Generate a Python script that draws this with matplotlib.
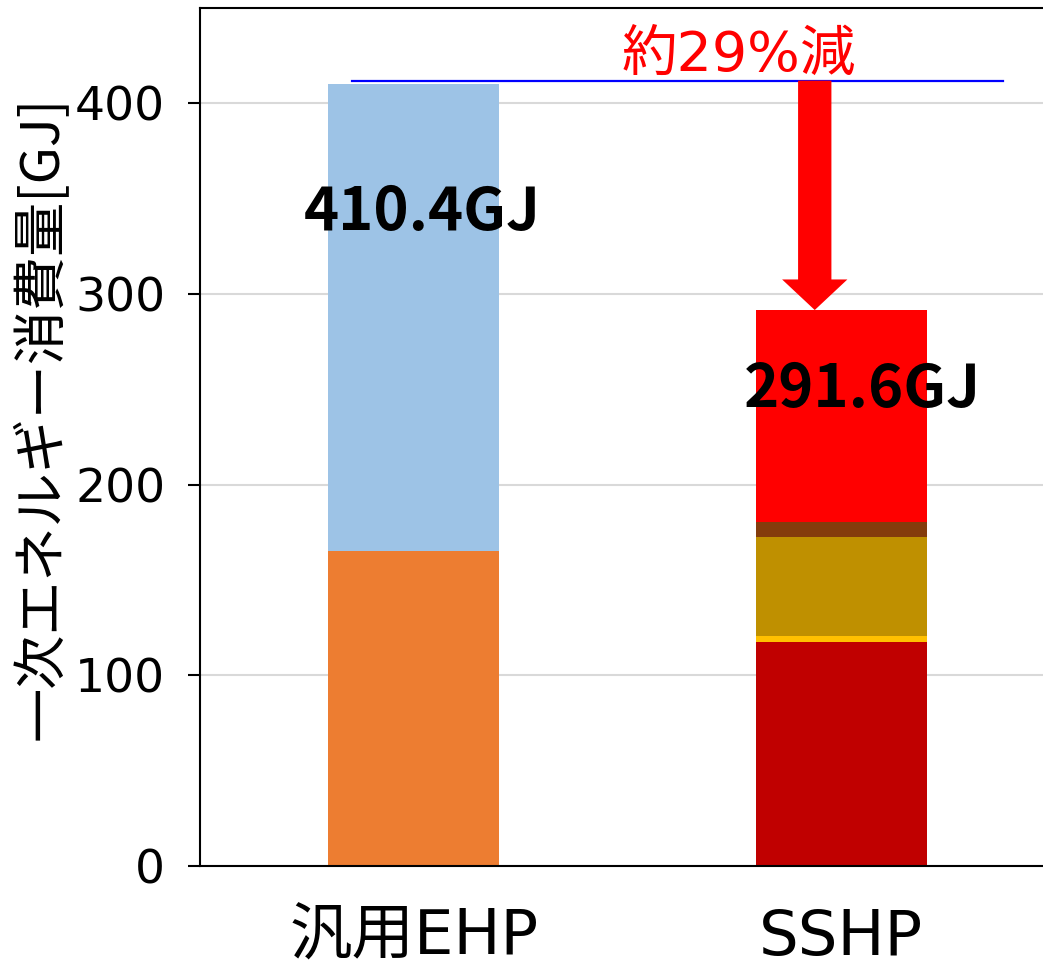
import matplotlib.pyplot as plt
import numpy as np

plt.rcParams['font.family'] = ['Noto Sans CJK JP', 'DejaVu Sans']
wide = ['DejaVu Sans', 'Noto Sans CJK JP']

# Stacked primary energy consumption per system [GJ]
systems = ["汎用EHP", "SSHP"]
ehp_parts = [165.4, 245.0]
ehp_colors = ["#ED7D31", "#9DC3E6"]
sshp_parts = [117.3, 3.1, 52.4, 7.8, 111.0]
sshp_colors = ["#C00000", "#FFC000", "#BF9000", "#843C0C", "#FF0000"]
totals = [410.4, 291.6]
reduction_text = "約29%減"

fig = plt.figure(figsize=(10.43, 9.68), dpi=100)
ax = fig.add_axes([200 / 1043, 1 - 866 / 968, 855 / 1043, 858 / 968])

x = np.arange(len(systems))
width = 0.4

bottom = 0.0
for v, c in zip(ehp_parts, ehp_colors):
    ax.bar(x[0], v, width, bottom=bottom, color=c, zorder=2)
    bottom += v
bottom = 0.0
for v, c in zip(sshp_parts, sshp_colors):
    ax.bar(x[1], v, width, bottom=bottom, color=c, zorder=2)
    bottom += v

# total labels
ax.text(x[0] + 0.02, totals[0] - 68, f"{totals[0]:.1f}GJ", ha="center", va="center",
        fontsize=43, fontweight="bold", zorder=4)
ax.text(x[1] + 0.05, totals[1] - 42, f"{totals[1]:.1f}GJ", ha="center", va="center",
        fontsize=43, fontweight="bold", zorder=4)

# reference line at the EHP total and reduction arrow
ax.plot([-0.144, 1.379], [totals[0] + 1.5, totals[0] + 1.5], color="#0000FF", lw=1.6, zorder=3)
ax.annotate("", xy=(0.938, totals[1]), xytext=(0.938, totals[0] + 1.5),
            arrowprops=dict(arrowstyle="simple,head_width=47,head_length=22,tail_width=24",
                            mutation_scale=1, fc="#FF0000", ec="none",
                            shrinkA=0, shrinkB=0), zorder=3)
ax.text(0.761, 425, reduction_text, color="#FF0000", fontsize=40, family=wide,
        ha="center", va="center", zorder=4)

ax.set_xlim(-0.5, 1.5)
ax.set_ylim(0, 450)
ax.set_yticks([0, 100, 200, 300, 400])
ax.set_xticks(x)
ax.set_xticklabels(systems)
ax.yaxis.grid(True, color="#D9D9D9", lw=1.5, zorder=0)
ax.set_axisbelow(True)

ax.tick_params(axis="y", labelsize=34, length=9, width=1.5, pad=16)
ax.tick_params(axis="x", labelsize=45, length=0, pad=30)
for lab in ax.get_xticklabels() + ax.get_yticklabels():
    lab.set_family(wide)
ax.set_ylabel("一次エネルギー消費量[GJ]", fontsize=39)
ax.yaxis.set_label_coords(-0.152, 0.522)

for s in ["left", "bottom", "top"]:
    ax.spines[s].set_linewidth(1.5)
ax.spines["right"].set_visible(False)

fig.savefig("out.png", dpi=100)
